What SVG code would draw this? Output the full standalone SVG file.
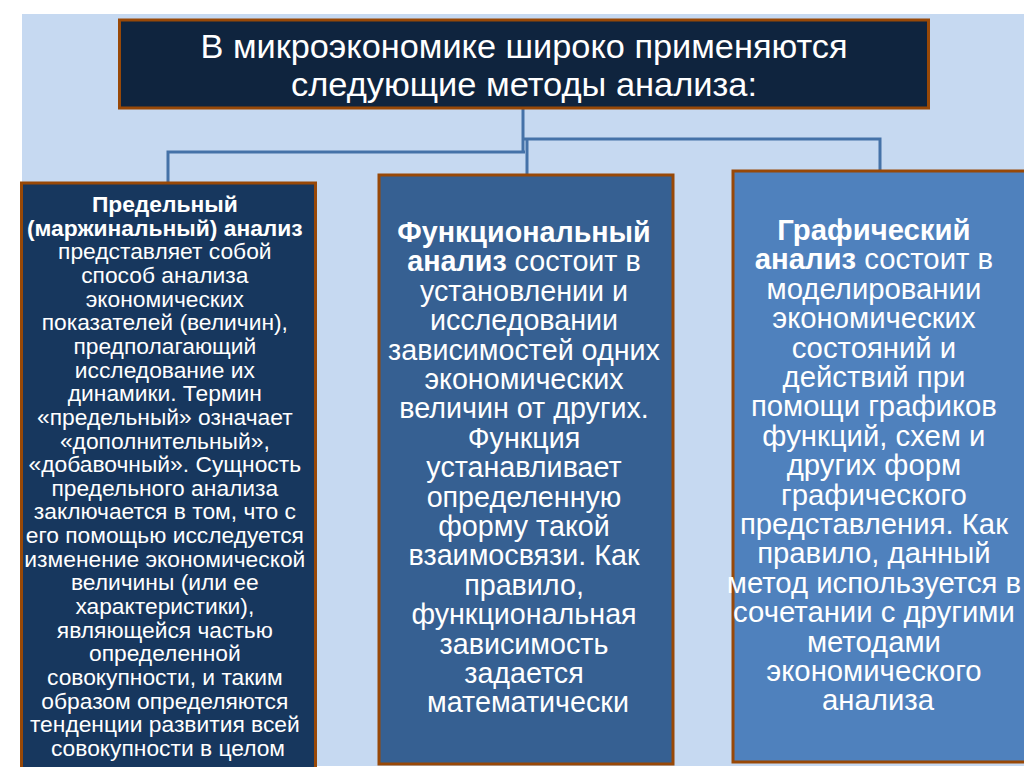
<svg xmlns="http://www.w3.org/2000/svg" width="1024" height="767" viewBox="0 0 1024 767">
<style>
.box{stroke:#984807;stroke-width:3}
.t{font-family:"Liberation Sans",Arial,sans-serif;fill:#ffffff;text-anchor:middle}
.b{font-weight:bold}
.title{font-family:"Liberation Sans Narrow","Liberation Sans",Arial,sans-serif;font-size:34px;fill:#ffffff;text-anchor:middle}
.l{font-size:22.8px}
.m{font-size:28.7px}
.r{font-size:29.3px}
.conn{fill:none;stroke:#4572a8;stroke-width:3}
</style>
<rect x="0" y="0" width="1024" height="767" fill="#ffffff"/>
<rect x="22" y="14" width="1002" height="752" fill="#c6d9f1"/>
<g id="connectors">
<path class="conn" d="M523,108 V153"/>
<path class="conn" d="M523,139 H880 V170"/>
<path class="conn" d="M168,182 V152 H525"/>
<path class="conn" d="M527,139 V174"/>
</g>
<g id="top">
<rect class="box" x="119.5" y="20" width="809" height="88" fill="#0f243e"/>
<text class="title" x="524" y="58" textLength="647" lengthAdjust="spacingAndGlyphs">В микроэкономике широко применяются</text>
<text class="title" x="524" y="96" textLength="466" lengthAdjust="spacingAndGlyphs">следующие методы анализа:</text>
</g>
<g id="marginal">
<rect class="box" x="21.5" y="183" width="294" height="600" fill="#17375e"/>
<text class="t l" x="168">
<tspan class="b" x="168" y="212">Предельный</tspan>
<tspan class="b" x="168" y="235.65">(маржинальный) анализ</tspan>
<tspan x="168" y="259.3">представляет собой</tspan>
<tspan x="168" y="282.95">способ анализа</tspan>
<tspan x="168" y="306.6">экономических</tspan>
<tspan x="168" y="330.25">показателей (величин),</tspan>
<tspan x="168" y="353.9">предполагающий</tspan>
<tspan x="168" y="377.55">исследование их</tspan>
<tspan x="168" y="401.2">динамики. Термин</tspan>
<tspan x="168" y="424.85">«предельный» означает</tspan>
<tspan x="168" y="448.5">«дополнительный»,</tspan>
<tspan x="168" y="472.15">«добавочный». Сущность</tspan>
<tspan x="168" y="495.8">предельного анализа</tspan>
<tspan x="168" y="519.45">заключается в том, что с</tspan>
<tspan x="168" y="543.1">его помощью исследуется</tspan>
<tspan x="168" y="566.75">изменение экономической</tspan>
<tspan x="168" y="590.4">величины (или ее</tspan>
<tspan x="168" y="614.05">характеристики),</tspan>
<tspan x="168" y="637.7">являющейся частью</tspan>
<tspan x="168" y="661.35">определенной</tspan>
<tspan x="168" y="685">совокупности, и таким</tspan>
<tspan x="168" y="708.65">образом определяются</tspan>
<tspan x="168" y="732.3">тенденции развития всей</tspan>
<tspan x="168" y="755.95">совокупности в целом</tspan>
</text>
</g>
<g id="functional">
<rect class="box" x="379" y="175" width="294" height="589" fill="#366092"/>
<text class="t m" x="528">
<tspan class="b" x="528" y="242">Функциональный</tspan>
<tspan x="528" y="271.4"><tspan class="b">анализ</tspan> состоит в</tspan>
<tspan x="528" y="300.8">установлении и</tspan>
<tspan x="528" y="330.2">исследовании</tspan>
<tspan x="528" y="359.6">зависимостей одних</tspan>
<tspan x="528" y="389">экономических</tspan>
<tspan x="528" y="418.4">величин от других.</tspan>
<tspan x="528" y="447.8">Функция</tspan>
<tspan x="528" y="477.2">устанавливает</tspan>
<tspan x="528" y="506.6">определенную</tspan>
<tspan x="528" y="536">форму такой</tspan>
<tspan x="528" y="565.4">взаимосвязи. Как</tspan>
<tspan x="528" y="594.8">правило,</tspan>
<tspan x="528" y="624.2">функциональная</tspan>
<tspan x="528" y="653.6">зависимость</tspan>
<tspan x="528" y="683">задается</tspan>
<tspan x="528" y="712.4">математически</tspan>
</text>
</g>
<g id="graphic">
<rect class="box" x="733" y="171" width="300" height="591" fill="#4f81bd"/>
<text class="t r" x="878">
<tspan class="b" x="878" y="240">Графический</tspan>
<tspan x="878" y="269.4"><tspan class="b">анализ</tspan> состоит в</tspan>
<tspan x="878" y="298.8">моделировании</tspan>
<tspan x="878" y="328.2">экономических</tspan>
<tspan x="878" y="357.6">состояний и</tspan>
<tspan x="878" y="387">действий при</tspan>
<tspan x="878" y="416.4">помощи графиков</tspan>
<tspan x="878" y="445.8">функций, схем и</tspan>
<tspan x="878" y="475.2">других форм</tspan>
<tspan x="878" y="504.6">графического</tspan>
<tspan x="878" y="534">представления. Как</tspan>
<tspan x="878" y="563.4">правило, данный</tspan>
<tspan x="878" y="592.8">метод используется в</tspan>
<tspan x="878" y="622.2">сочетании с другими</tspan>
<tspan x="878" y="651.6">методами</tspan>
<tspan x="878" y="681">экономического</tspan>
<tspan x="878" y="710.4">анализа</tspan>
</text>
</g>
</svg>
